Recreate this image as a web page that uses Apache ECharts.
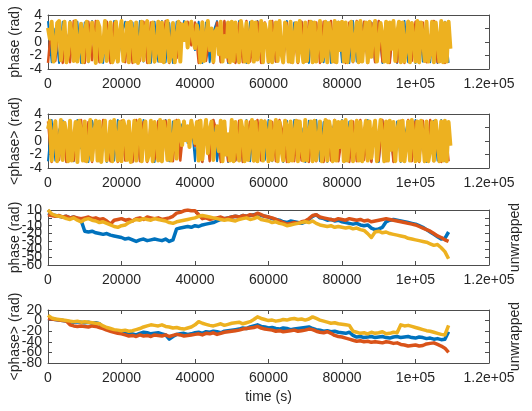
<!DOCTYPE html>
<html>
<head>
<meta charset="utf-8">
<script src="https://cdn.jsdelivr.net/npm/echarts@6/dist/echarts.min.js"></script>
<style>
  html, body { margin: 0; padding: 0; background: #fff; }
  #chart { width: 532px; height: 411px; }
</style>
</head>
<body>
<div id="chart"></div>
<script>
// Sampling steps (seconds) of each recorded series
const stepFine = 500;
const stepCoarse = 1000;

// x-axis ticks
const timeTicks = [0, 20000, 40000, 60000, 80000, 100000, 120000];
const timeTickLabels = ['0', '20000', '40000', '60000', '80000', '1e+05', '1.2e+05'];

// y-axis ticks of each panel
const wrappedTicks = [-4, -2, 0, 2, 4];
const unwrappedTicks = [-60, -50, -40, -30, -20, -10, 0, 10];
const avgUnwrappedTicks = [-80, -60, -40, -20, 0, 20];

// Panel 1: wrapped phase (rad)
const phaseYellow = [
  2.1, 0.5, 3.0, -2.9, -1.2, 2.8, 3.1, -2.7, 0.4, 3.0,
  -3.0, -1.8, 2.9, 1.0, -2.8, 3.1, -2.9, -0.6, 2.7, -3.0,
  1.5, 3.0, -2.8, -2.9, 2.9, 0.2, -3.1, 3.0, 2.2, -2.9,
  -1.0, 3.1, -2.8, 0.8, 2.9, -3.0, -2.2, 3.0, -2.9, 1.2,
  3.1, -2.8, -0.3, 2.8, -3.0, 3.0, 1.6, -2.9, 2.9, -3.1,
  -1.5, 3.0, -2.7, 2.1, 3.1, -3.0, 0.6, 2.9, -2.9, -1.1,
  3.0, -2.8, 2.9, -3.0, 1.0, 3.1, -2.9, -2.0, 2.8, -3.0,
  0.5, 3.0, -2.9, 2.6, 0.3, 2.9, -0.8, 1.8, 3.0, 0.2,
  -0.9, 2.5, 1.0, -3.0, 2.9, -2.8, 0.4, 3.1, -1.2, 2.0,
  -2.9, 1.5, 2.0, -1.8, 3.0, -2.9, 0.9, -2.2, 2.9, -3.0,
  3.0, -2.8, 2.9, -0.5, -3.0, 3.1, 1.1, -2.9, 2.8, -3.0,
  0.8, 3.0, -2.9, 2.9, -2.6, -0.4, 3.1, -3.0, 2.7, 1.3,
  -2.9, 3.0, -3.0, 0.2, 2.9, -2.8, 3.1, -1.6, -3.0, 2.9,
  1.9, -2.9, 3.0, -3.0, 0.7, 2.8, -2.9, 3.1, -0.9, -3.0,
  2.9, -2.8, 1.4, 3.0, -3.0, 2.9, -2.9, 0.3, 3.1, -2.8,
  -1.9, 3.0, -3.0, 2.8, 0.9, -2.9, 3.1, -3.0, 2.9, -1.2,
  3.0, -2.9, 2.9, -3.0, 1.7, 3.0, -2.8, -0.2, 2.9, -3.0,
  3.1, -2.9, 0.6, 2.9, -3.0, 3.0, -2.2, 1.5, 3.1, -2.9,
  -3.0, 2.8, 0.9, -2.9, 3.0, -3.0, 2.9, -1.0, 3.1, -2.8,
  1.2, 3.0, -3.0, 2.9, -2.9, -0.7, 3.0, -3.0, 2.8, 0.4,
  -2.9, 3.1, -3.0, 2.9, 1.0, -2.8, 3.0, -2.9, -1.5, 3.0,
  -3.0, 2.9, 0.3, -2.9, 3.1, -3.0, 2.8, -2.9, 3.0, -1.0
];
const phaseRed = [
  -3.1, 2.9, -2.8, 3.0, -3.1, 1.0, -3.0, 3.1, -2.9, 2.5,
  -3.1, 3.0, -2.7, 3.1, -3.0, 0.5, 3.0, -3.1, 2.8, -2.9,
  3.1, -3.0, 2.9, -3.1, 1.8, -2.8, 3.0, -3.1, 2.9, -3.0,
  3.0, -2.9, 3.1, -3.1, 2.7, -2.4, 2.8, 0.5, 3.0, -0.5,
  2.9, -3.1, 3.0, -2.8, 1.0, -3.1, 2.9, -3.0, 3.1, -2.9,
  3.0, -3.1, 2.8, -3.0, 3.1, -2.9, 0.8, 3.0, -3.1, 2.9,
  -3.0, 3.1, -2.9, 3.0, -3.1, 2.8, -3.0, 1.5, -3.1, 3.0,
  -2.9, 3.1, -3.0, 2.9, -3.1, 3.0, -2.8, 3.1, -3.0, 0.9,
  3.0, -3.1, 2.9, -3.0, 3.1, -2.9, 3.0, -3.1, 2.8, -3.0,
  3.1, -2.9, 1.2, -3.1, 3.0, -3.0, 2.9, -3.1, 3.1, -2.8,
  3.0, -3.1, 2.9, -3.0, 0.6, 3.1, -3.0, 2.9, -3.1, 3.0
];
const phaseBlue = [
  3.1, -3.0, 2.0, -3.1, 3.0, -2.9, 3.1, -1.5, 3.0, -3.1,
  2.9, -3.0, 3.1, -2.8, 0.9, -3.1, 3.0, -2.9, 3.1, -3.0,
  1.2, 3.0, -3.1, 2.9, -3.0, 3.1, -2.9, 0.5, -3.1, 3.0,
  -2.9, 3.1, -3.0, 2.8, -3.1, 3.0, -1.0, 3.1, 0.2, 2.9,
  -1.2, 3.0, -3.1, 2.9, -3.0, 1.5, 3.1, -2.9, 3.0, -3.1,
  2.9, -3.0, 3.1, 0.4, -3.1, 3.0, -2.9, 3.1, -3.0, 2.8,
  -3.1, 3.0, -2.9, 1.1, -3.1, 3.1, -3.0, 2.9, -3.1, 3.0,
  0.7, -3.1, 3.0, -2.9, 3.1, -3.0, 2.9, -3.1, 1.6, 3.0,
  -3.0, 2.9, -3.1, 3.1, -2.9, 0.8, 3.0, -3.1, 2.9, -3.0,
  3.1, -3.1, 2.8, -2.9, 3.0, -3.1, 1.3, 3.1, -3.0, 2.9,
  -3.1, 3.0, -2.9, 3.1, -3.0, 2.9, -3.1, 0.9, 3.0, -3.1
];

// Panel 2: averaged wrapped phase (rad)
const avgPhaseYellow = [
  1.8, 3.0, -2.9, 0.6, 2.9, -3.0, -1.4, 3.1, -2.8, 2.7,
  0.9, -3.0, 3.0, -2.9, -0.2, 2.8, -3.1, 3.0, 1.4, -2.9,
  2.9, -3.0, -1.7, 3.1, -2.8, 0.7, 3.0, -2.9, 2.9, -3.1,
  1.1, 3.0, -2.9, -0.8, 2.9, -3.0, 3.1, 0.3, -2.9, 2.8,
  -3.0, 3.0, 1.9, -2.8, 2.9, -3.1, -0.4, 3.0, -2.9, 2.6,
  3.1, -3.0, 0.8, 2.9, -2.9, -1.9, 3.0, -3.0, 2.8, 0.5,
  -2.9, 3.1, -3.0, 2.9, 1.3, -2.8, 3.0, -2.9, -0.5, 2.9,
  -2.6, 3.0, 1.0, -0.6, 2.9, 0.1, 2.2, -0.9, 3.0, 1.4,
  -0.3, 2.8, -2.9, 3.0, -2.7, 0.9, 3.1, -1.8, 1.6, 2.9,
  -2.8, 0.4, 2.2, -1.5, 3.0, -3.0, 2.9, -2.0, 1.0, -2.9,
  3.1, -3.0, 2.8, -0.9, -2.9, 3.0, 1.5, -3.0, 2.9, -2.8,
  0.6, 3.1, -2.9, 2.8, -3.0, -0.1, 3.0, -2.9, 2.9, 1.0,
  -3.0, 2.9, -2.8, 0.5, 3.1, -3.0, 2.8, -1.3, -2.9, 3.0,
  2.2, -3.0, 2.9, -2.9, 1.0, 3.0, -3.0, 2.9, -0.6, -2.9,
  3.1, -2.9, 1.1, 2.9, -3.0, 3.0, -2.8, 0.1, 2.9, -3.0,
  -1.6, 3.1, -2.9, 2.9, 1.2, -3.0, 3.0, -2.9, 2.8, -0.9,
  2.9, -3.0, 3.1, -2.9, 1.4, 2.9, -3.0, -0.5, 3.0, -2.9,
  2.8, -3.0, 0.9, 3.0, -2.9, 2.9, -2.5, 1.2, 3.0, -3.0,
  -2.8, 3.1, 0.6, -3.0, 2.9, -2.9, 3.0, -1.3, 2.8, -3.0,
  1.5, 2.9, -2.9, 3.0, -3.0, -0.4, 2.9, -2.9, 3.1, 0.7,
  -3.0, 2.9, -2.9, 3.0, 0.8, -3.0, 2.9, -3.0, -1.2, 2.8,
  -2.9, 3.0, 0.5, -3.0, 2.9, -2.9, 3.0, -3.0, 2.8, -0.7
];
const avgPhaseRed = [
  2.9, -3.1, 3.0, -2.8, 2.1, -3.1, 3.0, -2.9, 0.9, 3.1,
  -3.0, 2.8, -3.1, 3.0, -2.9, 3.1, -0.8, -3.0, 2.9, -3.1,
  3.0, -2.9, 1.4, -3.1, 3.1, -3.0, 2.8, -3.1, 3.0, -2.7,
  2.9, -3.1, 3.0, 0.6, -3.0, 3.1, -2.9, 2.6, 0.9, 2.9,
  -0.7, 3.0, -3.1, 2.9, -3.0, 3.1, 1.2, -3.1, 2.8, -3.0,
  3.1, -2.9, 3.0, -3.1, 0.4, 2.9, -3.0, 3.1, -2.9, 3.0,
  -3.1, 2.8, -3.0, 3.1, 1.0, -3.1, 2.9, -3.0, 3.0, -2.9,
  3.1, -3.1, 1.7, -3.0, 2.9, -3.1, 3.0, -2.9, 3.1, -3.0,
  0.5, 3.0, -3.1, 2.9, -3.0, 3.1, -2.8, 1.1, -3.1, 3.0,
  -2.9, 3.1, -3.0, 2.8, -3.1, 0.7, 3.0, -2.9, 3.1, -3.0,
  2.9, -3.1, 3.0, -2.9, 3.1, -3.0, 1.3, -3.1, 2.9, -3.0
];
const avgPhaseBlue = [
  -3.0, 3.1, -2.9, 1.6, 3.0, -3.1, 2.9, -3.0, 3.1, -1.1,
  2.9, -3.1, 3.0, 0.7, -3.0, 2.8, -3.1, 3.0, -2.9, 3.1,
  -3.0, 0.9, 2.9, -3.1, 3.0, -2.8, 3.1, -3.0, 1.2, -3.1,
  3.0, -2.9, 3.1, -3.0, 2.9, -0.4, 1.8, 3.0, -0.3, 3.1,
  -3.0, 2.9, -3.1, 3.0, -2.7, 3.1, -3.0, 0.6, 2.9, -3.1,
  3.0, -2.9, 1.5, -3.1, 3.1, -3.0, 2.9, -3.1, 3.0, -2.8,
  3.1, -3.0, 0.8, 2.9, -3.1, 3.0, -2.9, 3.1, -3.0, 1.9,
  -3.1, 3.0, -2.9, 3.1, -3.0, 2.8, -3.1, 0.3, 3.0, -2.9,
  3.1, -3.0, 2.9, -3.1, 3.0, -2.9, 1.0, 3.1, -3.0, 2.9,
  -3.1, 3.0, -2.8, 3.1, -3.0, 2.9, -3.1, 0.5, 3.0, -2.9,
  3.1, -3.0, 2.9, -3.1, 1.4, 3.0, -2.9, 3.1, -3.0, 2.9
];

// Panel 3: unwrapped phase (rad), one value per 1000 s
const unwrapBlue = [
  6, 4, 3, 2, 1, 2, 0, 1, -1, -3,
  -17, -18, -17, -19, -20, -21, -20, -22, -23, -24,
  -25, -27, -26, -28, -30, -28, -27, -29, -28, -27,
  -28, -29, -27, -30, -28, -14, -13, -12, -11, -12,
  -10, -11, -9, -8, -7, -6, -4, -2, -1, 0,
  1, 2, 1, 3, 2, 3, 4, 5, 3, 2,
  1, -1, -2, -3, -5, -6, -4, -5, -6, -7,
  -5, -2, 2, 4, 0, -1, -3, -2, -4, -3,
  -5, -6, -7, -8, -7, -9, -10, -9, -13, -15,
  -14, -12, -5, -3, -2, -3, -4, -5, -6, -7,
  -8, -10, -12, -15, -18, -21, -24, -27, -26, -18
];
const unwrapRed = [
  4, 3, 2, 3, 1, 2, 0, 1, 0, -1,
  0, 1, -1, 0, -2, -1, -4, -8, -3, -2,
  -1, -3, -2, -4, -1, 0, -2, 1, 0, -1,
  0, -2, -1, 0, 2, 6, 7, 9, 10, 9,
  9, 4, -1, 0, -2, -1, 0, 1, -1, 0,
  1, 2, 1, 3, 2, 4, 3, 6, 4, 2,
  1, 0, -2, -4, -6, -8, -7, -6, -7, -5,
  -4, -1, 3, 4, 1, 0, -1, -2, -3, -1,
  -2, -3, -1, -2, -3, -2, -4, -3, -5, -4,
  -3, -2, -1, -2, -3, -4, -5, -6, -7, -8,
  -9, -11, -13, -15, -17, -20, -23, -25, -28, -30
];
const unwrapYellow = [
  10, 5, 3, 2, 1, -1, -2, 0, -3, -5,
  -2, -1, -3, -4, -6, -5, -7, -9, -11, -12,
  -10, -9, -6, -4, -2, -3, -1, -2, -3, -1,
  -2, -3, -4, -6, -7, -5, -4, -3, -2, -1,
  0, 2, 3, 2, 1, 0, -1, -2, -3, -2,
  -3, -4, -2, -1, 0, -2, -1, 1, -2, -3,
  -4, -6, -5, -7, -8, -10, -9, -8, -7, -6,
  -5, -6, -4, -7, -9, -10, -11, -10, -12, -11,
  -12, -13, -12, -14, -13, -15, -16, -20, -25, -18,
  -17, -19, -18, -20, -21, -22, -23, -24, -26, -27,
  -28, -29, -30, -31, -33, -35, -34, -38, -43, -52
];

// Panel 4: averaged unwrapped phase (rad), one value per 1000 s
const avgUnwrapBlue = [
  4, 3, 2, 1, 0, -1, -2, -3, -2, -3,
  -4, -3, -5, -4, -6, -12, -16, -18, -20, -21,
  -22, -24, -23, -25, -27, -24, -22, -23, -25, -24,
  -23, -25, -27, -35, -30, -26, -25, -24, -26, -25,
  -23, -22, -24, -21, -22, -20, -21, -23, -20, -19,
  -18, -17, -16, -14, -15, -12, -10, -8, -11, -12,
  -14, -13, -15, -16, -14, -15, -17, -16, -15, -14,
  -13, -12, -15, -17, -18, -20, -19, -21, -20, -22,
  -23, -24, -22, -28, -31, -30, -32, -31, -30, -32,
  -31, -30, -32, -33, -31, -30, -32, -31, -30, -32,
  -33, -31, -32, -34, -33, -35, -34, -36, -35, -21
];
const avgUnwrapRed = [
  4, 3, 2, 1, 0, -1, -8, -10, -11, -10,
  -11, -12, -10, -11, -13, -15, -18, -20, -22, -24,
  -25, -27, -29, -28, -30, -27, -29, -28, -30, -27,
  -28, -29, -27, -30, -28, -26, -27, -29, -28, -27,
  -26, -25, -27, -24, -25, -23, -26, -24, -22, -21,
  -20, -19, -18, -16, -15, -14, -13, -11, -14, -16,
  -17, -18, -20, -19, -21, -20, -19, -18, -20, -19,
  -18, -16, -17, -20, -22, -23, -21, -24, -28, -30,
  -31, -33, -35, -37, -39, -38, -40, -39, -41, -40,
  -41, -42, -40, -41, -43, -42, -45, -46, -48, -47,
  -46, -48, -47, -44, -43, -42, -45, -48, -52, -60
];
const avgUnwrapYellow = [
  10, 5, 3, 2, 1, 0, -1, -2, -1, -3,
  -2, -3, -4, -5, -6, -10, -13, -15, -17, -18,
  -19, -18, -20, -19, -17, -15, -12, -10, -8, -9,
  -10, -8, -11, -12, -14, -13, -15, -16, -14, -12,
  -8, -2, -5, -7, -9, -10, -8, -6, -9, -7,
  -5, -4, -3, -6, -4, -2, 2, 7, 4, 2,
  0, 1, -1, 0, 2, 1, 3, 4, 2, 3,
  1, 3, 7, 4, 1, -1, -3, -5, -4, -6,
  -7, -8, -9, -20, -22, -24, -23, -25, -22, -24,
  -23, -21, -25, -24, -22, -23, -8, -10, -9, -11,
  -13, -15, -17, -19, -20, -22, -24, -26, -27, -9
];

const COLORS = { blue: '#0072BD', red: '#D95319', yellow: '#EDB120' };
const INK = '#262626';
const FRAME = '#4d4d4d';
const FONT = 'Liberation Sans, Arial, sans-serif';
const GRID_LEFT = 48;

function pairs(values, step) {
  return values.map((v, i) => [i * step, v]);
}

const panels = [
  { top: 15, height: 54, ticks: wrappedTicks, name: 'phase (rad)', right: '',
    series: [[phaseBlue, stepCoarse, 'blue', 2], [phaseRed, stepCoarse, 'red', 2.5], [phaseYellow, stepFine, 'yellow', 4]] },
  { top: 114, height: 54, ticks: wrappedTicks, name: '<phase> (rad)', right: '',
    series: [[avgPhaseBlue, stepCoarse, 'blue', 2], [avgPhaseRed, stepCoarse, 'red', 2.5], [avgPhaseYellow, stepFine, 'yellow', 4]] },
  { top: 210, height: 55, ticks: unwrappedTicks, name: 'phase (rad)', right: 'unwrapped',
    series: [[unwrapBlue, stepCoarse, 'blue', 3.5], [unwrapRed, stepCoarse, 'red', 3.5], [unwrapYellow, stepCoarse, 'yellow', 3.5]] },
  { top: 310, height: 53, ticks: avgUnwrappedTicks, name: '<phase> (rad)', right: 'unwrapped',
    series: [[avgUnwrapBlue, stepCoarse, 'blue', 3.5], [avgUnwrapRed, stepCoarse, 'red', 3.5], [avgUnwrapYellow, stepCoarse, 'yellow', 3.5]] }
];

const grid = [], xAxis = [], yAxis = [], series = [];
const tickStyle = { show: true, inside: true, length: 4, lineStyle: { color: FRAME, width: 1 } };
const lineStyle = { show: true, onZero: false, lineStyle: { color: FRAME, width: 1 } };
const nameStyle = { fontSize: 14, color: INK, fontFamily: FONT };

panels.forEach((p, i) => {
  grid.push({ left: GRID_LEFT, right: 43, top: p.top, height: p.height, containLabel: false, outerBoundsMode: 'none' });
  const xBase = { gridIndex: i, type: 'value', min: timeTicks[0], max: timeTicks[timeTicks.length - 1],
    interval: timeTicks[1] - timeTicks[0], splitLine: { show: false }, axisLine: lineStyle, axisTick: tickStyle };
  xAxis.push(Object.assign({}, xBase, {
    position: 'bottom',
    axisLabel: { fontSize: 14, color: INK, fontFamily: FONT, margin: 8,
      formatter: v => timeTickLabels[timeTicks.indexOf(v)] },
    name: i === 3 ? 'time (s)' : '', nameLocation: 'middle', nameGap: 27, nameTextStyle: nameStyle
  }));
  xAxis.push(Object.assign({}, xBase, { position: 'top', axisLabel: { show: false } }));
  const yBase = { gridIndex: i, type: 'value', min: p.ticks[0], max: p.ticks[p.ticks.length - 1],
    interval: p.ticks[1] - p.ticks[0], splitLine: { show: false }, axisLine: lineStyle, axisTick: tickStyle };
  yAxis.push(Object.assign({}, yBase, {
    position: 'left', axisLabel: { show: false },
    name: p.name, nameLocation: 'middle', nameGap: 26, nameRotate: 90, nameTextStyle: nameStyle
  }));
  yAxis.push(Object.assign({}, yBase, {
    position: 'right', axisLabel: { show: false },
    name: p.right, nameLocation: 'middle', nameGap: 19, nameRotate: 90, nameTextStyle: nameStyle
  }));
  p.series.forEach(([vals, step, col, w]) => {
    series.push({
      type: 'line', xAxisIndex: i * 2, yAxisIndex: i * 2, data: pairs(vals, step),
      showSymbol: false, symbol: 'none', animation: false, silent: true,
      lineStyle: { color: COLORS[col], width: w, join: 'round' }
    });
  });
});

const chart = echarts.init(document.getElementById('chart'), null, { renderer: 'canvas' });
chart.setOption({ animation: false, backgroundColor: '#fff', grid, xAxis, yAxis, series });

// Y tick labels are placed at every tick, crowded or not, through the axis scale.
const tickLabels = [];
panels.forEach((p, i) => {
  p.ticks.forEach(t => {
    const y = chart.convertToPixel({ yAxisIndex: i * 2 }, t);
    tickLabels.push({
      type: 'text', x: GRID_LEFT - 6, y: y, silent: true,
      style: { text: String(t), fill: INK, font: '14px ' + FONT, align: 'right', verticalAlign: 'middle' }
    });
  });
});
chart.setOption({ graphic: tickLabels });
</script>
</body>
</html>
